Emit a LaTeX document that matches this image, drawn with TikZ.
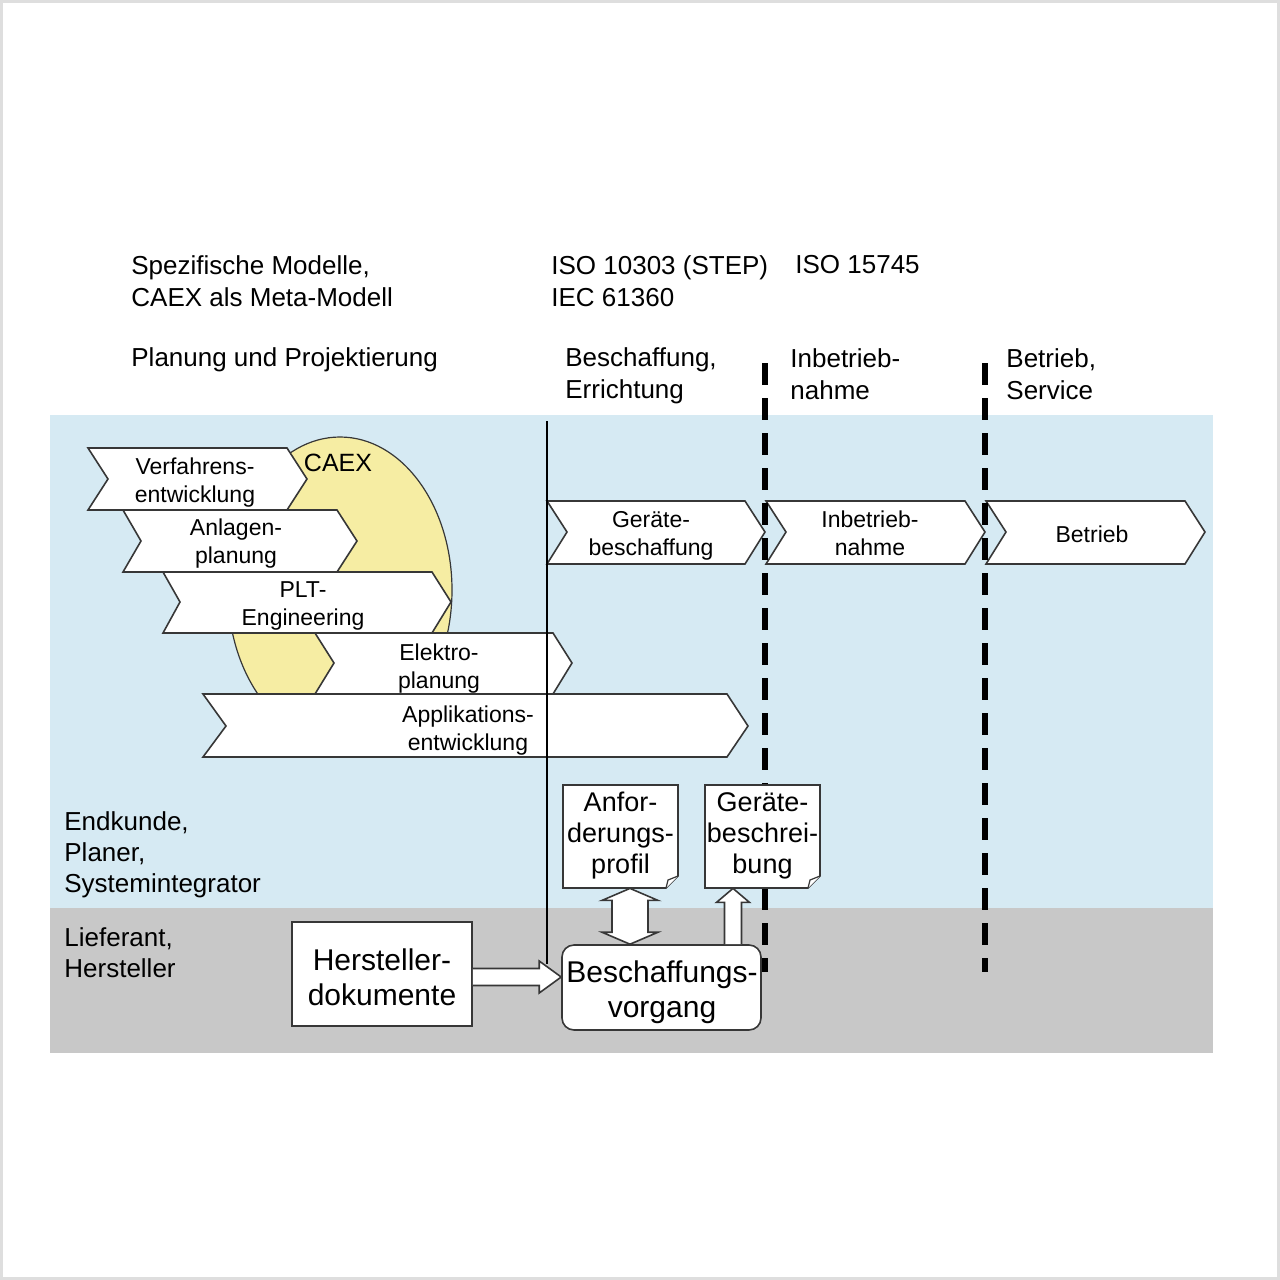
\documentclass[tikz,border=0pt]{standalone}
\usepackage{fontspec}
\setmainfont{Liberation Sans}
\usetikzlibrary{calc}

\definecolor{bandblue}{RGB}{214,234,243}
\definecolor{bandgray}{RGB}{200,200,200}
\definecolor{caexyellow}{RGB}{246,237,163}
\definecolor{edge}{RGB}{55,55,55}

\tikzset{
 hdr/.style={anchor=west,inner sep=0pt,align=left,font=\fontsize{13}{16}\selectfont},
 side/.style={anchor=west,inner sep=0pt,align=left,font=\fontsize{13}{15.5}\selectfont},
 chev/.style={draw=edge,fill=white,line width=0.8pt},
 chevtxt/.style={align=center,inner sep=0pt,font=\fontsize{11.5}{14}\selectfont},
 docbox/.style={minimum width=57.5pt,minimum height=51.5pt,inner sep=0pt},
 doctxt/.style={inner sep=0pt,align=center,font=\fontsize{13.5}{15.5}\selectfont},
 bigbox/.style={draw=edge,fill=white,line width=0.8pt,inner sep=0pt},
 bigtxt/.style={inner sep=0pt,align=center,font=\fontsize{15}{17.5}\selectfont},
 blockarr/.style={draw=edge,fill=white,line width=0.8pt,line join=miter},
 phase/.style={line width=3pt,dash pattern=on 11pt off 6.5pt},
}

\begin{document}
\begin{tikzpicture}[x=0.5pt,y=-0.5pt]
\useasboundingbox (0,0) rectangle (1280,1280);
\fill[white] (0,0) rectangle (1280,1280);
\draw[black!13,line width=1.5pt] (1.5,1.5) rectangle (1278.5,1278.5);

% headings
\node[hdr] (modelle) at (131,281) {Spezifische Modelle,\\CAEX als Meta-Modell};
\node[hdr] (iso) at (551,281) {ISO 10303 (STEP)\\IEC 61360};
\node[hdr] (iso2) at (795,265) {ISO 15745};
\node[hdr] (planung) at (131,360) {Planung und Projektierung};
\node[hdr] (beschaffung) at (565,376) {Beschaffung,\\Errichtung};
\node[hdr] (inbetrieb) at (790,374) {Inbetrieb-\\nahme};
\node[hdr] (betrieb) at (1006,374) {Betrieb,\\Service};

% bands
\fill[bandblue] (50,415) rectangle (1213,908);
\fill[bandgray] (50,908) rectangle (1213,1053);
\node[side] (kunde) at (64,855) {Endkunde,\\Planer,\\Systemintegrator};
\node[side] (liefer) at (64,953) {Lieferant,\\Hersteller};

% CAEX
\draw[edge,fill=caexyellow,line width=0.6pt] (340,590) ellipse [x radius=56pt,y radius=76.5pt];
\node[inner sep=0pt,font=\fontsize{12.5}{15}\selectfont] (caex) at (338,463) {CAEX};

% planning chevrons
\draw[chev] (88,448) -- (287,448) -- (307,479) -- (287,510) -- (88,510) -- (108,479) -- cycle;
\node[chevtxt] (verf) at (195,483) {Verfahrens-\\entwicklung};
\draw[chev] (123,510) -- (337,510) -- (357,541) -- (337,572) -- (123,572) -- (141,541) -- cycle;
\node[chevtxt] (anlagen) at (236,544) {Anlagen-\\planung};
\draw[chev] (163,572) -- (432,572) -- (451,602) -- (432,633) -- (163,633) -- (180,602) -- cycle;
\node[chevtxt] (plt) at (303,605.5) {PLT-\\Engineering};
\draw[chev] (315,633) -- (553,633) -- (572,663) -- (553,694) -- (315,694) -- (334,663) -- cycle;
\node[chevtxt] (elektro) at (439,668.5) {Elektro-\\planung};
\draw[chev] (203,694) -- (727,694) -- (748,726) -- (727,757) -- (203,757) -- (226,726) -- cycle;
\node[chevtxt] (appl) at (468,730.5) {Applikations-\\entwicklung};

% phase chevrons
\draw[chev] (547,501) -- (745,501) -- (765,532) -- (745,564) -- (547,564) -- (567,532) -- cycle;
\node[chevtxt] (gbesch) at (651,536) {Geräte-\\beschaffung};
\draw[chev] (766,501) -- (965,501) -- (985,532) -- (965,564) -- (766,564) -- (786,532) -- cycle;
\node[chevtxt] (inbn) at (870,533) {Inbetrieb-\\nahme};
\draw[chev] (986,501) -- (1185,501) -- (1205,532) -- (1185,564) -- (986,564) -- (1006,532) -- cycle;
\node[chevtxt] (betr) at (1092,534) {Betrieb};

% dividers
\draw[black,line width=0.7pt] (547,421) -- (547,964);
\draw[phase] (765,363) -- (765,972);
\draw[phase] (985,363) -- (985,972);

% documents
\draw[chev] (563,785) -- (678,785) -- (678,876) -- (666,888) -- (563,888) -- cycle;
\draw[edge,fill=white,line width=0.6pt] (678,876) -- (668,880) -- (666,888);
\node[docbox] (anf) at (620.5,836.5) {};
\node[doctxt] (anftxt) at (620.5,836) {Anfor-\\derungs-\\profil};
\draw[chev] (705,785) -- (820,785) -- (820,876) -- (808,888) -- (705,888) -- cycle;
\draw[edge,fill=white,line width=0.6pt] (820,876) -- (810,880) -- (808,888);
\node[docbox] (gbeschr) at (762.5,836.5) {};
\node[doctxt] (gbeschrtxt) at (762.5,836) {Geräte-\\beschrei-\\bung};

% supplier side
\node[bigbox,minimum width=90pt,minimum height=52pt] (herst) at (382,974) {};
\node[bigtxt] (hersttxt) at (382,977) {Hersteller-\\dokumente};
\node[bigbox,rounded corners=6pt,minimum width=99.5pt,minimum height=42.5pt] (vorgang) at (661.5,987.5) {};
\node[bigtxt] (vorgangtxt) at (662,992) {Beschaffungs-\\vorgang};

% block arrows
\coordinate (ha) at ($(herst.east)+(0,3)$);
\coordinate (hb) at (vorgang.west |- ha);
\draw[blockarr] ($(ha)+(0,-8.5)$) -- ($(hb)+(-22,-8.5)$) -- ($(hb)+(-22,-16)$) -- (hb)
 -- ($(hb)+(-22,16)$) -- ($(hb)+(-22,8.5)$) -- ($(ha)+(0,8.5)$);

\coordinate (dt) at ($(anf.south)+(9.5,0)$);
\coordinate (db) at (vorgang.north -| dt);
\draw[blockarr] (dt) -- ($(dt)+(28,12)$) -- ($(dt)+(18,12)$) -- ($(db)+(18,-12)$) -- ($(db)+(28,-12)$)
 -- (db) -- ($(db)+(-28,-12)$) -- ($(db)+(-18,-12)$) -- ($(dt)+(-18,12)$) -- ($(dt)+(-28,12)$) -- cycle;

\coordinate (ut) at ($(gbeschr.south)+(-29.5,0)$);
\coordinate (ub) at (vorgang.north -| ut);
\draw[blockarr] ($(ub)+(-8.5,0)$) -- ($(ut)+(-8.5,14)$) -- ($(ut)+(-16.5,14)$) -- (ut)
 -- ($(ut)+(16.5,14)$) -- ($(ut)+(8.5,14)$) -- ($(ub)+(8.5,0)$);
\end{tikzpicture}
\end{document}
